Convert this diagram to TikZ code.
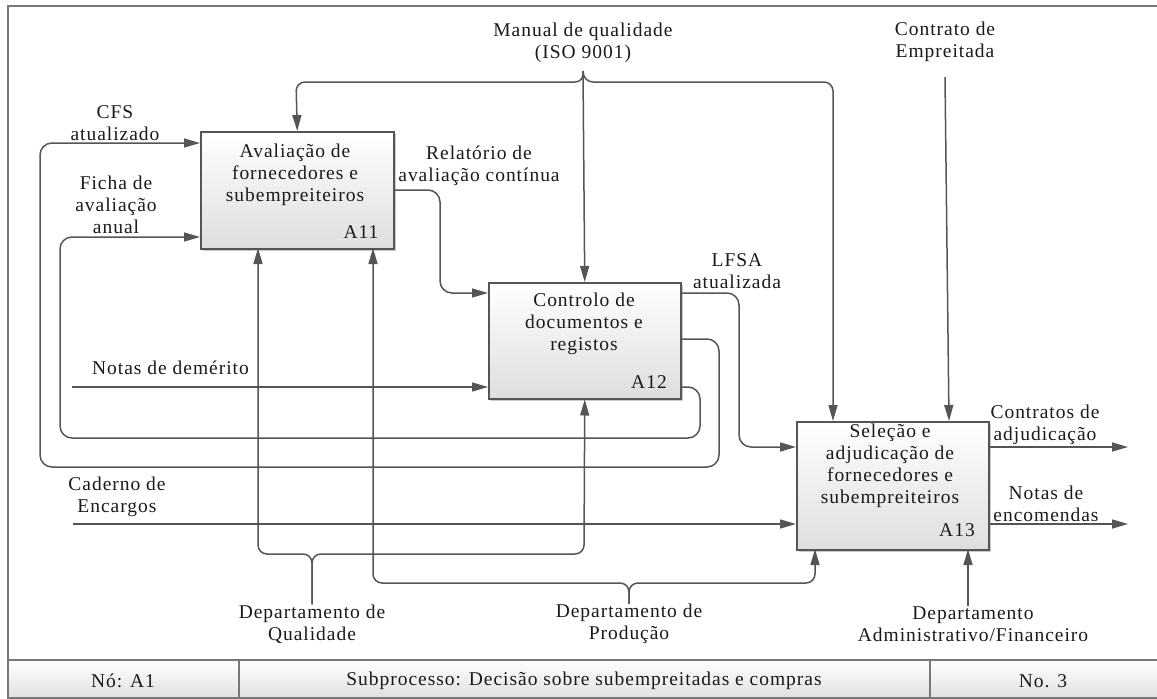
\documentclass[tikz,border=0pt]{standalone}
\usepackage{fontspec}
\setmainfont[LetterSpace=5]{Liberation Serif}
\usetikzlibrary{arrows.meta,shadows}
\definecolor{ln}{HTML}{555555}
\definecolor{fr}{HTML}{777777}
\definecolor{tx}{HTML}{1A1A1A}
\begin{document}
\begin{tikzpicture}[x=1pt,y=-1pt,
  every node/.style={font=\fontsize{19.5}{22}\selectfont, text=tx, inner sep=0pt},
  txt/.style={align=center},
  box/.style={draw=ln, line width=1.5pt, top color=white, bottom color=black!13,
    drop shadow={shadow xshift=2.5pt, shadow yshift=-2.5pt, opacity=0.35, fill=black!60},
    anchor=north west, inner sep=0pt},
  flow/.style={draw=ln, line width=1.5pt, rounded corners=12pt},
  fork/.style={flow, rounded corners=9pt},
  arr/.style={-{Triangle[length=16pt,width=9pt]}},
]
\useasboundingbox (0,0) rectangle (1157,699);

% frame and title block
\draw[fr, line width=1.5pt] (1160,6) -- (8,6) -- (8,698) -- (1160,698);
\draw[fr, line width=1.5pt, top color=white, bottom color=black!12] (8,660) rectangle (1160,698);
\draw[fr, line width=1.5pt] (239,660) -- (239,698) (930,660) -- (930,698);
\node (nd) at (123,681) {Nó: A1};
\node (sp) at (584,681) {Subprocesso: Decisão sobre subempreitadas e compras};
\node (no) at (1043,681) {No. 3};

% activity boxes
\node[box, minimum width=193pt, minimum height=117pt] (A11) at (200,131) {};
\node[box, minimum width=192pt, minimum height=116pt] (A12) at (488,282) {};
\node[box, minimum width=192pt, minimum height=128pt] (A13) at (796,421) {};
\node[txt] (A11t) at (295,175) {Avaliação de\\fornecedores e\\subempreiteiros};
\node (A11n) at (361,232) {A11};
\node[txt] (A12t) at (584,324) {Controlo de\\documentos e\\registos};
\node (A12n) at (649,382) {A12};
\node[txt] (A13t) at (890,466) {Seleção e\\adjudicação de\\fornecedores e\\subempreiteiros};
\node (A13n) at (957,530) {A13};

% arrow labels
\node[txt] (man) at (583,43) {Manual de qualidade\\(ISO 9001)};
\node[txt] (con) at (945,42) {Contrato de\\Empreitada};
\node[txt] (cfs) at (115,123) {CFS\\atualizado};
\node[txt] (fic) at (116,205) {Ficha de\\avaliação\\anual};
\node[txt] (rel) at (479,166) {Relatório de\\avaliação contínua};
\node[txt] (lfs) at (737,271) {LFSA\\atualizada};
\node[anchor=west] (dem) at (92,368) {Notas de demérito};
\node[txt] (cad) at (117,497) {Caderno de\\Encargos};
\node[txt] (ctr) at (1045,425) {Contratos de\\adjudicação};
\node[txt] (enc) at (1046,504) {Notas de\\encomendas};
\node[txt] (qua) at (312,624) {Departamento de\\Qualidade};
\node[txt] (pro) at (629,624) {Departamento de\\Produção};
\node[txt] (adm) at (973,624) {Departamento\\Administrativo/Financeiro};

% free ends of boundary arrows
\coordinate (demIn) at (72,387);
\coordinate (cadIn) at (73,524);
\coordinate (ctrOut) at (1128,447);
\coordinate (encOut) at (1128,524);

% controls
\draw[fork, arr] ([yshift=-8pt]man.south) -- (584,82) -- (296,82) -- (A11.north |- 0,131);
\draw[fork, arr] ([yshift=-8pt]man.south) -- (584,82) -- (833,82) -- (833,421);
\draw[flow, arr] ([yshift=-8pt]man.south) -- (A12.north);
\draw[flow, arr] ([yshift=-15pt]con.south) -- (949,421);

% flows between activities
\draw[flow, arr] (A11.east |- 0,190) -- (440,190) -- (440,293) -- (A12.west |- 0,293);
\draw[flow, arr] (A12.east |- 0,293) -- (739,293) -- (739,447) -- (A13.west |- 0,447);
\draw[flow, arr] (A12.east |- 0,339) -- (719,339) -- (719,467) -- (40,467) -- (40,143) -- (A11.west |- 0,143);
\draw[flow, arr] (A12.east |- 0,387) -- (700,387) -- (700,438) -- (60,438) -- (60,237) -- (A11.west |- 0,237);

% inputs and outputs
\draw[flow, arr] (demIn) -- (A12.west |- demIn);
\draw[flow, arr] (cadIn) -- (A13.west |- cadIn);
\draw[flow, arr] (A13.east |- ctrOut) -- (ctrOut);
\draw[flow, arr] (A13.east |- encOut) -- (encOut);

% mechanisms
\draw[fork, arr] (qua.north) -- (312,554) -- (258,554) -- (258,248);
\draw[fork, arr] (qua.north) -- (312,554) -- (584,554) -- (A12.south);
\draw[fork, arr] (pro.north) -- (629,583) -- (373,583) -- (373,248);
\draw[fork, arr] (pro.north) -- (629,583) -- (815,583) -- (815,549);
\draw[flow, arr] (adm.north -| 968,0) -- (968,549);
\end{tikzpicture}
\end{document}
